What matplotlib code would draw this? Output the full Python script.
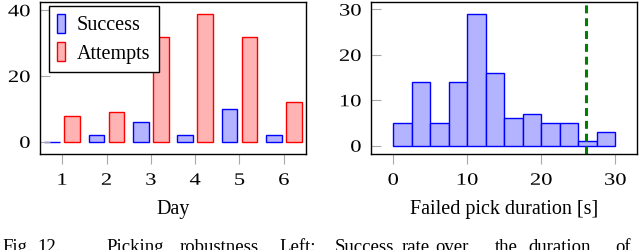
import numpy as np
import matplotlib
matplotlib.use("Agg")
import matplotlib.pyplot as plt
from matplotlib.patheffects import AbstractPathEffect
from matplotlib.transforms import Affine2D

plt.rcParams['font.family'] = ['Liberation Serif', 'DejaVu Serif']
plt.rcParams['font.size'] = 14.5

# left panel: picks per day
days = [1, 2, 3, 4, 5, 6]
success = [0, 2, 6, 2, 10, 2]
attempts = [8, 9, 32, 39, 32, 12]

# right panel: histogram of failed pick durations
bin_edges = [0, 2.5, 5, 7.5, 10, 12.5, 15, 17.5, 20, 22.5, 25, 27.5, 30]
counts = [5, 14, 5, 14, 29, 16, 6, 7, 5, 5, 1, 3]
timeout = 26

caption_words = ["Fig.", "12.", "Picking", "robustness.", "Left:", "Success",
                 "rate", "over", "the", "duration", "of"]
caption_x = [2, 37, 106, 180, 279, 335, 402, 435, 495, 528, 615]

blue_fill = (0.7, 0.7, 1.0)
red_fill = (1.0, 0.7, 0.7)
tick_gray = '#a8a8a8'

TICK_FS = 12.5
# tick digits in the reference are wider than Times digits
TICK_STRETCH = 1.3


class Stretch(AbstractPathEffect):
    """Widen text glyphs around the side they are aligned on."""
    def __init__(self, sx, anchor):
        super().__init__()
        self.sx = sx
        self.anchor = anchor

    def draw_path(self, renderer, gc, tpath, affine, rgbFace=None):
        ext = tpath.get_extents()
        if self.anchor == 'right':
            cx = ext.x1
        elif self.anchor == 'center':
            cx = 0.5 * (ext.x0 + ext.x1)
        else:
            cx = 0.0
        stretch = Affine2D().translate(-cx, 0).scale(self.sx, 1).translate(cx, 0)
        renderer.draw_path(gc, tpath, stretch + affine, rgbFace)


fig = plt.figure(figsize=(6.4, 2.5), dpi=100)
W, H = 640.0, 250.0


def axes_px(x0, x1, ytop, ybot):
    return fig.add_axes([x0 / W, 1 - ybot / H, (x1 - x0) / W, (ybot - ytop) / H])


def style_axes(ax):
    for s in ax.spines.values():
        s.set_linewidth(1.0)
        s.set_color('black')
    ax.tick_params(axis='x', direction='out', length=7.5, width=0.8,
                   color=tick_gray, pad=6, labelsize=TICK_FS)
    ax.tick_params(axis='y', direction='in', length=7, width=0.8,
                   color=tick_gray, pad=7, labelsize=TICK_FS)


# ---- left plot
ax1 = axes_px(40, 306, 2, 154)
x = np.array(days)
ax1.bar(x - 0.225, success, width=0.35, color=blue_fill, edgecolor='blue',
        linewidth=1.0, label='Success')
ax1.bar(x + 0.225, attempts, width=0.35, color=red_fill, edgecolor='red',
        linewidth=1.0, label='Attempts')
ax1.set_xlim(0.5, 6.5)
ax1.set_ylim(-3.7, 42.5)
ax1.set_xticks(days)
ax1.set_yticks([0, 20, 40])
ax1.set_xlabel('Day', labelpad=8)
style_axes(ax1)
# legend box spans 49..159 px across, top at 6 px
leg = ax1.legend(loc='upper left',
                 bbox_to_anchor=((49 - 40) / 266, 0, 110 / 266, (154 - 6) / 152),
                 mode='expand', borderaxespad=0, fancybox=False,
                 edgecolor='black', framealpha=1, handlelength=0.4,
                 handleheight=1.05, handletextpad=0.58, labelspacing=0.35,
                 borderpad=0.4)
leg.get_frame().set_linewidth(1.0)

# ---- right plot
ax2 = axes_px(371, 636.7, 2, 154)
ax2.hist(bin_edges[:-1], bins=bin_edges, weights=counts, color=blue_fill,
         edgecolor='blue', linewidth=1.0)
ax2.axvline(timeout, color=(0, 0.5, 0), linewidth=2.2,
            linestyle=(0, (2.6, 1.6)))
ax2.set_xlim(-3.0, 32.9)
ax2.set_ylim(-1.83, 31.65)
ax2.set_xticks([0, 10, 20, 30])
ax2.set_yticks([0, 10, 20, 30])
ax2.set_xlabel('Failed pick duration [s]', labelpad=8)
style_axes(ax2)

# caption, cut off at the bottom edge like the reference
for word, xp in zip(caption_words, caption_x):
    fig.text(xp / W, -0.009, word, ha='left', va='baseline', fontsize=13.5)

fig.canvas.draw()
for ax in (ax1, ax2):
    for t in ax.get_xticklabels():
        t.set_path_effects([Stretch(TICK_STRETCH, 'center')])
    for t in ax.get_yticklabels():
        t.set_path_effects([Stretch(TICK_STRETCH, 'right')])

fig.savefig('out.png', dpi=100)
